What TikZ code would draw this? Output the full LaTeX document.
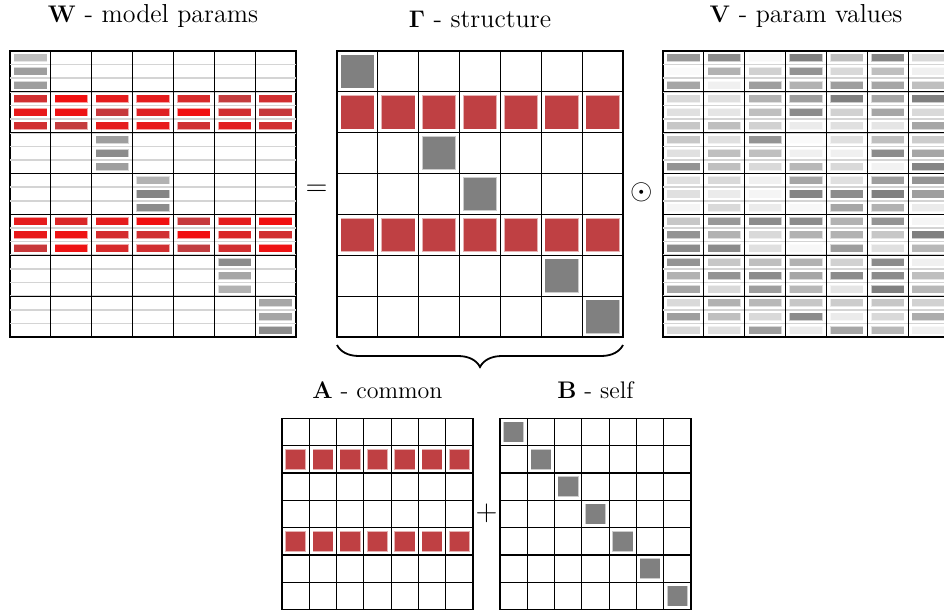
\documentclass[tikz,border=0pt]{standalone}
\usetikzlibrary{positioning,decorations.pathreplacing}
\definecolor{gred}{RGB}{191,64,67}
\definecolor{pred}{RGB}{250,8,8}
\definecolor{sgray}{RGB}{128,128,128}
\newcommand{\cellw}{40.857} % big cell
\newcommand{\subh}{13.619}  % one of three sub rows
\newcommand{\smallw}{27.286} % cell of A and B

\begin{document}
\begin{tikzpicture}[
        x=0.5pt, y=-0.5pt, % 1 unit = 1 px, y runs down
        mframe/.style={draw, line width=0.6pt, minimum size=#1, inner sep=0pt, outer sep=0pt},
        title/.style={font=\fontsize{13}{15}\selectfont, inner sep=0pt},
        stitle/.style={font=\fontsize{12}{14}\selectfont, inner sep=0pt},
        op/.style={font=\fontsize{14}{16}\selectfont, inner sep=0pt},
        mline/.style={line width=0.6pt},
        subline/.style={line width=0.8pt, black!17},
        bar/.style={draw=white, draw opacity=0.6, line width=0.5pt},
        sq/.style={draw=white, draw opacity=0.6, line width=0.6pt},
        brc/.style={decorate, decoration={brace, mirror, amplitude=11pt, raise=4pt}, line width=0.9pt},
    ]
    \path[use as bounding box, clip] (0,0) rectangle (944,612);

    % the five matrices
    \node[mframe=143pt] (Wbox) at (153,194) {};
    \node[mframe=143pt] (Gbox) at (480,194) {};
    \node[mframe=143pt] (Vbox) at (806,194) {};
    \node[mframe=95.5pt] (Abox) at (377.5,514) {};
    \node[mframe=95.5pt] (Bbox) at (595.5,514) {};

    \node[title, above=11.5pt of Wbox] (Wtitle) {$\mathbf{W}$ - model params};
    \node[title, above=11.5pt of Gbox] (Gtitle) {$\mathbf{\Gamma}$ - structure};
    \node[title, above=11.5pt of Vbox] (Vtitle) {$\mathbf{V}$ - param values};
    \node[stitle, above=9.5pt of Abox] (Atitle) {$\mathbf{A}$ - common};
    \node[stitle, above=9.5pt of Bbox] (Btitle) {$\mathbf{B}$ - self};

    \node[op] (eq) at (316.5,190) {$=$};
    \node[op] (had) at (642,192) {$\odot$};
    \node[op] (plus) at (486.5,513) {$+$};

    \draw[brc] (Gbox.south west) -- (Gbox.south east);

    % sub rows of W and V
    \foreach \bx in {Wbox,Vbox}{
        \begin{scope}[shift={(\bx.north west)}]
            \foreach \k in {1,...,20}
                \draw[subline] (0,\k*\subh) -- (286,\k*\subh);
        \end{scope}
    }

    % W - model params
    \begin{scope}[shift={(Wbox.north west)}]
        \foreach \r/\c/\va/\vb/\vc in {0/0/25/38/38, 2/2/38/45/38, 3/3/30/48/45, 5/5/45/35/30, 6/6/35/35/45}
            \foreach \v [count=\s from 0] in {\va,\vb,\vc}
                \path[bar, fill=black!\v] (\c*\cellw+3.8, {(3*\r+\s)*\subh+2.8}) rectangle ++(\cellw-7.6,\subh-5.6);
        \foreach \r/\s/\vals in {1/0/{30,85,65,65,40,8,30}, 1/1/{70,80,12,55,85,30,12}, 1/2/{30,8,65,70,28,60,30},
                4/0/{65,45,65,85,12,65,85}, 4/1/{70,80,35,28,85,45,30}, 4/2/{15,80,40,30,4,30,80}}
            \foreach \p [count=\c from 0] in \vals
                \path[bar, fill=pred!\p!gred] (\c*\cellw+3.8, {(3*\r+\s)*\subh+2.8}) rectangle ++(\cellw-7.6,\subh-5.6);
    \end{scope}

    % Gamma - structure
    \begin{scope}[shift={(Gbox.north west)}]
        \foreach \c in {0,...,6}{
            \path[sq, fill=gred] (\c*\cellw+3.5, \cellw+3.5) rectangle ++(\cellw-7,\cellw-7);
            \path[sq, fill=gred] (\c*\cellw+3.5, 4*\cellw+3.5) rectangle ++(\cellw-7,\cellw-7);
        }
        \foreach \c in {0,2,3,5,6}
            \path[sq, fill=sgray] (\c*\cellw+3.5, \c*\cellw+3.5) rectangle ++(\cellw-7,\cellw-7);
    \end{scope}

    % V - param values
    \begin{scope}[shift={(Vbox.north west)}]
        \foreach \vals [count=\s from 0] in {
                {40,45,3,50,25,48,15}, {2,30,18,42,15,25,6}, {35,6,38,30,38,35,25},
                {15,12,30,38,50,35,50}, {12,10,25,45,18,35,15}, {22,25,18,8,12,10,35},
                {22,12,42,2,12,25,20}, {12,25,25,6,6,45,35}, {42,25,15,28,15,5,48},
                {12,15,6,35,12,38,42}, {12,8,4,48,45,50,38}, {4,15,8,3,35,30,8},
                {22,40,45,45,30,42,4}, {42,30,15,30,30,22,50}, {45,45,12,3,38,12,28},
                {42,22,25,30,18,45,6}, {30,42,45,35,45,45,25}, {35,15,38,28,10,50,28},
                {15,30,28,22,20,22,18}, {38,25,15,45,8,15,32}, {15,12,38,8,35,28,6}}
            \foreach \v [count=\c from 0] in \vals
                \path[bar, fill=black!\v] (\c*\cellw+3.8, {\s*\subh+2.8}) rectangle ++(\cellw-7.6,\subh-5.6);
    \end{scope}

    % A - common
    \begin{scope}[shift={(Abox.north west)}]
        \foreach \c in {0,...,6}{
            \path[sq, fill=gred] (\c*\smallw+3.3, \smallw+3.3) rectangle ++(\smallw-6.6,\smallw-6.6);
            \path[sq, fill=gred] (\c*\smallw+3.3, 4*\smallw+3.3) rectangle ++(\smallw-6.6,\smallw-6.6);
        }
    \end{scope}

    % B - self
    \begin{scope}[shift={(Bbox.north west)}]
        \foreach \c in {0,...,6}
            \path[sq, fill=sgray] (\c*\smallw+3.3, \c*\smallw+3.3) rectangle ++(\smallw-6.6,\smallw-6.6);
    \end{scope}

    % cell lines
    \foreach \bx in {Wbox,Gbox,Vbox}{
        \begin{scope}[shift={(\bx.north west)}]
            \foreach \k in {1,...,6}{
                \draw[mline] (\k*\cellw,0) -- (\k*\cellw,286);
                \draw[mline] (0,\k*\cellw) -- (286,\k*\cellw);
            }
        \end{scope}
    }
    \foreach \bx in {Abox,Bbox}{
        \begin{scope}[shift={(\bx.north west)}]
            \foreach \k in {1,...,6}{
                \draw[mline] (\k*\smallw,0) -- (\k*\smallw,191);
                \draw[mline] (0,\k*\smallw) -- (191,\k*\smallw);
            }
        \end{scope}
    }
\end{tikzpicture}
\end{document}
